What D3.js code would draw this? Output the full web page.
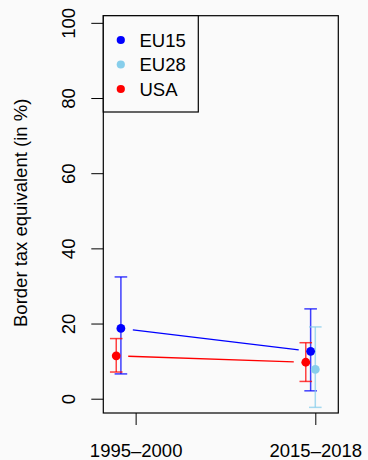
<!DOCTYPE html>
<html>
<head>
<meta charset="utf-8">
<script src="https://cdn.jsdelivr.net/npm/d3@7"></script>
<style>
  body { margin: 0; background: #fafafa; }
  svg { display: block; font-family: "Liberation Sans", Arial, sans-serif; }
</style>
</head>
<body>
<div id="chart"></div>
<script>
// periods on the x axis
const periods = ['1995\u20132000', '2015\u20132018'];
const series = ['EU15', 'EU28', 'USA'];
const colors = ['#0000ff', '#87ceeb', '#ff0000'];

// point estimates and error bar ends (null = not available)
const eu15 = [18.7, 12.6];
const eu15Lo = [6.6, 2.1];
const eu15Hi = [32.4, 23.9];
const eu28 = [null, 7.8];
const eu28Lo = [null, -2.3];
const eu28Hi = [null, 19.1];
const usa = [11.4, 9.7];
const usaLo = [7.1, 4.6];
const usaHi = [16.0, 14.9];

// dodged x positions of each series (x axis units)
const eu15X = [0.918, 1.974];
const eu28X = [null, 2.0];
const usaX = [0.892, 1.947];

const yTicks = [0, 20, 40, 60, 80, 100];

const width = 368, height = 460;
const plot = { left: 103.3, right: 338.3, top: 15.7, bottom: 413 };

const svg = d3.select('#chart').append('svg')
  .attr('width', width)
  .attr('height', height);

const x = d3.scaleLinear().domain([0.82, 2.128]).range([plot.left, plot.right]);
const y = d3.scaleLinear().domain([-3.8, 101.9]).range([plot.bottom, plot.top]);

// y axis
const yAxis = svg.append('g')
  .attr('transform', 'translate(' + plot.left + ',0)')
  .call(d3.axisLeft(y).tickValues(yTicks).tickSize(12).tickSizeOuter(0));
yAxis.select('.domain').remove();
yAxis.selectAll('line').attr('stroke', '#000');
yAxis.selectAll('text')
  .attr('x', 0).attr('dy', 0)
  .attr('text-anchor', 'middle')
  .attr('transform', 'translate(-28.8,0) rotate(-90)')
  .attr('font-size', 18.5)
  .attr('font-family', null)
  .attr('fill', '#000');

// x axis
const xAxis = svg.append('g')
  .attr('transform', 'translate(0,' + plot.bottom + ')')
  .call(d3.axisBottom(x).tickValues([1, 2]).tickFormat(d => periods[d - 1]).tickSize(12).tickSizeOuter(0));
xAxis.select('.domain').remove();
xAxis.selectAll('line').attr('stroke', '#000');
xAxis.selectAll('text')
  .attr('y', 43.5).attr('dy', 0)
  .attr('font-size', 18.5)
  .attr('font-family', null)
  .attr('fill', '#000');

// axis title
svg.append('text')
  .attr('transform', 'translate(26.7,' + ((plot.top + plot.bottom) / 2 - 1.5) + ') rotate(-90)')
  .attr('text-anchor', 'middle')
  .attr('font-size', 18.5)
  .text('Border tax equivalent (in %)');

const data = [
  { name: series[0], color: colors[0], xs: eu15X, v: eu15, lo: eu15Lo, hi: eu15Hi },
  { name: series[1], color: colors[1], xs: eu28X, v: eu28, lo: eu28Lo, hi: eu28Hi },
  { name: series[2], color: colors[2], xs: usaX, v: usa, lo: usaLo, hi: usaHi }
];

const cap = 6.3, gap = 12, r = 4.4;

data.forEach(s => {
  const pts = s.v.map((v, i) => ({ x: s.xs[i], v: v, lo: s.lo[i], hi: s.hi[i] }))
    .filter(p => p.v !== null);

  // connecting line with gaps around the points
  if (pts.length === 2) {
    const x1 = x(pts[0].x), y1 = y(pts[0].v), x2 = x(pts[1].x), y2 = y(pts[1].v);
    const len = Math.hypot(x2 - x1, y2 - y1);
    const ux = (x2 - x1) / len, uy = (y2 - y1) / len;
    svg.append('line')
      .attr('x1', x1 + ux * gap).attr('y1', y1 + uy * gap)
      .attr('x2', x2 - ux * gap).attr('y2', y2 - uy * gap)
      .attr('stroke', s.color).attr('stroke-width', 1.3);
  }

  const g = svg.append('g').attr('stroke', s.color).attr('stroke-width', 1.5).attr('stroke-opacity', 0.75);
  pts.forEach(p => {
    const px = x(p.x);
    g.append('line').attr('x1', px).attr('x2', px).attr('y1', y(p.lo)).attr('y2', y(p.hi));
    g.append('line').attr('x1', px - cap).attr('x2', px + cap).attr('y1', y(p.lo)).attr('y2', y(p.lo));
    g.append('line').attr('x1', px - cap).attr('x2', px + cap).attr('y1', y(p.hi)).attr('y2', y(p.hi));
  });
});

data.forEach(s => {
  svg.selectAll(null)
    .data(s.v.map((v, i) => ({ x: s.xs[i], v: v })).filter(p => p.v !== null))
    .enter().append('circle')
    .attr('cx', d => x(d.x))
    .attr('cy', d => y(d.v))
    .attr('r', r)
    .attr('fill', s.color);
});

// plot box
svg.append('rect')
  .attr('x', plot.left).attr('y', plot.top)
  .attr('width', plot.right - plot.left).attr('height', plot.bottom - plot.top)
  .attr('fill', 'none').attr('stroke', '#000').attr('stroke-width', 1.2);

// legend
const legend = svg.append('g');
legend.append('rect')
  .attr('x', plot.left).attr('y', plot.top)
  .attr('width', 95).attr('height', 96.3)
  .attr('fill', '#fafafa').attr('stroke', '#000').attr('stroke-width', 1.2);
series.forEach((name, i) => {
  legend.append('circle')
    .attr('cx', 120.8).attr('cy', 40 + i * 24.5).attr('r', 4.1)
    .attr('fill', colors[i]);
  legend.append('text')
    .attr('x', 139.5).attr('y', 46.7 + i * 24.5)
    .attr('font-size', 18.5)
    .text(name);
});
</script>
</body>
</html>
